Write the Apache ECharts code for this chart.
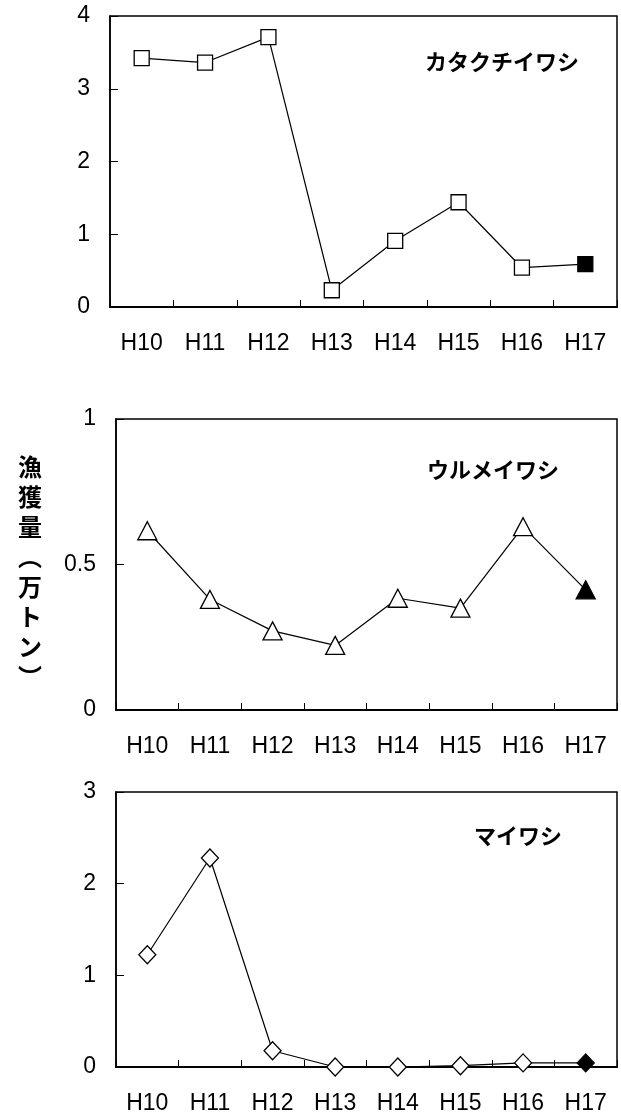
<!DOCTYPE html>
<html><head><meta charset="utf-8">
<script src="https://cdn.jsdelivr.net/npm/echarts@6/dist/echarts.min.js"></script>
<style>html,body{margin:0;padding:0;background:#fff}#c{width:621px;height:1115px}</style>
</head><body><div id="c"></div>
<script>
const categories = ['H10','H11','H12','H13','H14','H15','H16','H17'];
const katakuchi = [3.42, 3.36, 3.71, 0.23, 0.91, 1.44, 0.54, 0.59];
const urume = [0.616, 0.380, 0.272, 0.222, 0.384, 0.350, 0.630, 0.413];
const maiwashi = [1.225, 2.28, 0.177, 0.0, 0.0, 0.014, 0.045, 0.045];
const seriesNames = ['カタクチイワシ','ウルメイワシ','マイワシ'];
const yMax = [4, 1, 3];
const yInterval = [1, 0.5, 1];
const yTitle = ['漁','獲','量','︵','万','ト','ン','︶'];

const panels = [
  {data: katakuchi, grid:{left:110, top:16, width:507, height:291}, symbol:'rect', size:15, title:{x:502,y:62}},
  {data: urume, grid:{left:116, top:419, width:501, height:291}, symbol:'triangle', size:[19,18], title:{x:493,y:470}},
  {data: maiwashi, grid:{left:116, top:792, width:501, height:277}, symbol:'diamond', size:[17,18], title:{x:518,y:836}}
];
const font = 'Liberation Sans, Arial, sans-serif';
const jp = '"Noto Sans CJK JP", sans-serif';

const option = {
  animation:false,
  backgroundColor:'#fff',
  grid: panels.map(p => Object.assign({show:true, borderColor:'#000', borderWidth:1.5, backgroundColor:'transparent'}, p.grid)),
  xAxis: panels.map((p,i) => ({
    type:'category', gridIndex:i, data:categories, boundaryGap:true,
    axisLine:{show:true, lineStyle:{color:'#000', width:2}},
    axisTick:{show:true, inside:true, length:7, lineStyle:{color:'#000', width:1}},
    axisLabel:{color:'#000', fontFamily:font, fontSize:23, margin:25},
    splitLine:{show:false}
  })),
  yAxis: panels.map((p,i) => ({
    type:'value', gridIndex:i, min:0, max:yMax[i], interval:yInterval[i],
    axisLine:{show:true, lineStyle:{color:'#000', width:1.5}},
    axisTick:{show:true, inside:true, length:8, lineStyle:{color:'#000', width:1}},
    axisLabel:{color:'#000', fontFamily:font, fontSize:23, margin:20},
    splitLine:{show:false}
  })),
  series: panels.map((p,i) => ({
    type:'line', xAxisIndex:i, yAxisIndex:i, name:seriesNames[i],
    symbol:p.symbol, symbolSize:p.size, showAllSymbol:true,
    lineStyle:{color:'#000', width:1.2},
    itemStyle:{color:'#fff', borderColor:'#000', borderWidth:1.3},
    data: p.data.map((v,k) => k === p.data.length-1 ? {value:v, itemStyle:{color:'#000'}} : v),
    z:3
  })),
  graphic: panels.map((p,i) => ({
    type:'text', x:p.title.x, y:p.title.y,
    style:{text:seriesNames[i], font:'bold 22px ' + jp, fill:'#000', textAlign:'center', textVerticalAlign:'middle'}
  })).concat([{
    type:'text', x:30, y:452,
    style:{text:yTitle.join('\n'), font:'bold 24px ' + jp, lineHeight:30, fill:'#000', textAlign:'center', textVerticalAlign:'top'}
  }])
};
const chart = echarts.init(document.getElementById('c'), null, {renderer:'canvas'});
chart.setOption(option);
</script>
</body></html>
